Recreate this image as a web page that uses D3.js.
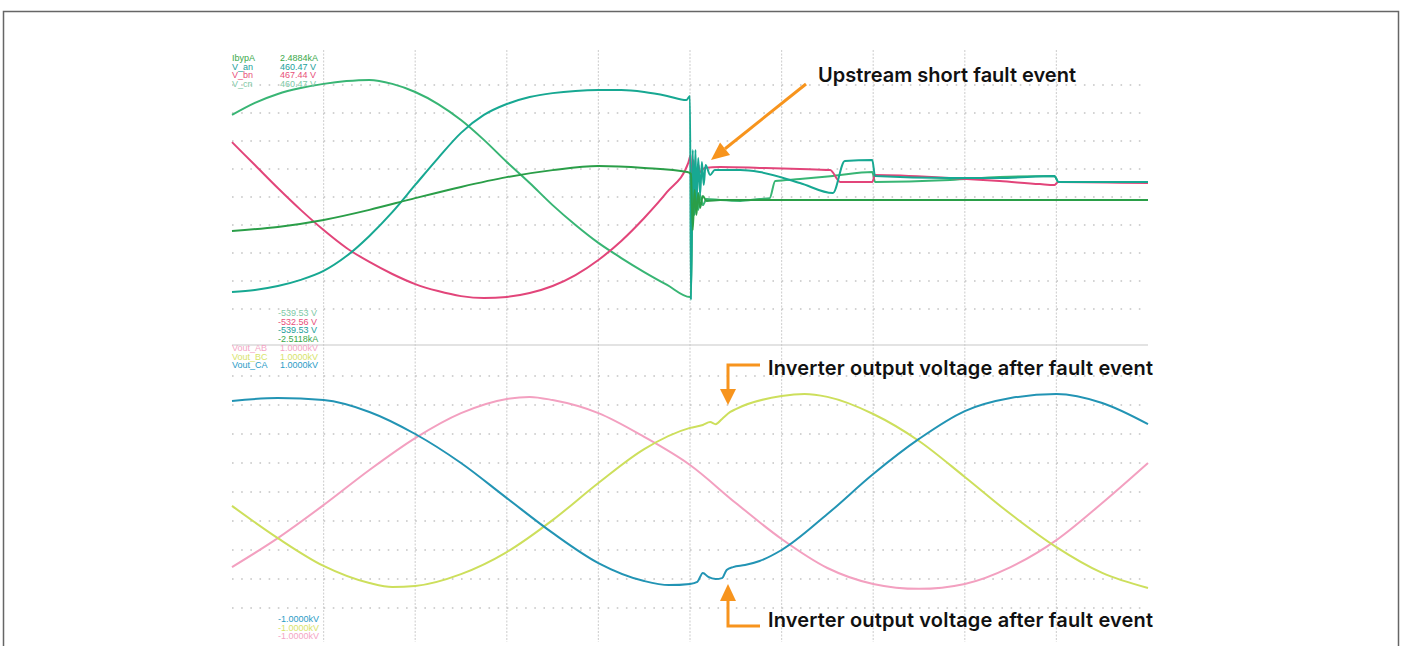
<!DOCTYPE html>
<html>
<head>
<meta charset="utf-8">
<script src="https://cdn.jsdelivr.net/npm/d3@7"></script>
<style>
  html, body { margin: 0; padding: 0; background: #fff; }
  svg { display: block; }
</style>
</head>
<body>
<svg id="chart" width="1405" height="646"></svg>
<script>
// ---------- DATA (time in divisions, amplitude in divisions) ----------
const topLegendLabels = ["IbypA", "V_an", "V_bn", "V_cn"];
const topMaxLabels = ["2.4884kA", "460.47 V", "467.44 V", "460.47 V"];
const topMinLabels = ["-539.53 V", "-532.56 V", "-539.53 V", "-2.5118kA"];
const botLegendLabels = ["Vout_AB", "Vout_BC", "Vout_CA"];
const botMaxLabels = ["1.0000kV", "1.0000kV", "1.0000kV"];
const botMinLabels = ["-1.0000kV", "-1.0000kV", "-1.0000kV"];

const ibypA = [[0,-1.21],[0.5,-1.07],[1,-0.82],[1.5,-0.46],[2,-0.04],[2.5,0.36],[3,0.71],[3.5,0.96],[4,1.11],[4.5,1.04],[4.97,0.89],
  [5.01,0.82],[5.03,-1.18],[5.05,0.25],[5.07,-0.64],[5.09,0.14],[5.11,-0.39],[5.14,0.04],[5.18,-0.14],[5.33,-0.11],[6.2,-0.11],[7.3,-0.11],[8.4,-0.11],[10,-0.11]];
const vAn = [[0,-3.39],[0.25,-3.32],[0.5,-3.18],[0.75,-2.96],[1,-2.64],[1.25,-2.11],[1.5,-1.39],[1.75,-0.54],[2,0.43],[2.25,1.39],[2.5,2.29],[2.75,2.93],[3,3.32],[3.25,3.57],[3.5,3.71],[3.75,3.79],[4,3.82],[4.25,3.82],[4.5,3.75],[4.75,3.61],[4.96,3.46],[5.0,3.61],
  [5.01,-3.68],[5.03,1.68],[5.04,-0.64],[5.06,1.68],[5.07,-0.29],[5.09,1.39],[5.11,0.07],[5.13,1.25],[5.15,0.43],[5.17,1.14],[5.22,0.79],[5.27,0.96],[5.55,0.96],[5.76,0.89],[6.2,0.5],[6.56,0.14],[6.69,1.29],[6.99,1.32],[7.02,0.75],[7.84,0.68],[8.38,0.68],[8.98,0.75],[9.02,0.54],[10,0.54]];
const vBn = [[0,1.96],[0.25,1.14],[0.5,0.32],[0.75,-0.46],[1,-1.18],[1.25,-1.82],[1.5,-2.32],[1.75,-2.75],[2,-3.11],[2.25,-3.36],[2.5,-3.54],[2.75,-3.61],[3,-3.57],[3.25,-3.43],[3.5,-3.18],[3.75,-2.79],[4,-2.25],[4.25,-1.57],[4.5,-0.75],[4.75,0.18],[4.98,1.21],
  [5.01,1.5],[5.02,-0.64],[5.04,1.32],[5.06,0.07],[5.09,1.14],[5.11,0.89],[5.16,1.04],[5.33,1.07],[5.76,1.04],[6.2,1.0],[6.53,0.96],[6.64,0.54],[6.99,0.54],[7.02,0.79],[7.84,0.68],[8.38,0.57],[8.82,0.46],[8.98,0.43],[9.02,0.54],[10,0.5]];
const vCn = [[0,2.93],[0.25,3.36],[0.5,3.68],[0.75,3.89],[1,4.04],[1.25,4.14],[1.5,4.18],[1.75,4.04],[2,3.75],[2.25,3.32],[2.5,2.75],[2.75,2.04],[3,1.25],[3.25,0.5],[3.5,-0.29],[3.75,-1.0],[4,-1.64],[4.25,-2.18],[4.5,-2.68],[4.75,-3.14],[5,-3.57],
  [5.01,-3.57],[5.03,0.07],[5.05,-0.64],[5.07,0.18],[5.09,-0.46],[5.11,0.07],[5.14,-0.29],[5.18,-0.07],[5.33,-0.11],[5.55,-0.14],[5.76,-0.07],[5.87,-0.04],[5.93,0.57],[6.2,0.64],[6.56,0.75],[6.99,0.89],[7.02,0.54],[7.84,0.61],[8.38,0.71],[8.98,0.75],[9.02,0.54],[10,0.54]];

const voutAB = [[0,-2.59],[0.5,-1.59],[1,-0.45],[1.5,0.76],[2,1.86],[2.5,2.72],[3,3.21],[3.25,3.28],[3.5,3.17],[4,2.72],[4.5,1.90],[5,0.93],[5.5,-0.38],[6,-1.62],[6.5,-2.62],[7,-3.17],[7.5,-3.34],[8,-3.17],[8.5,-2.59],[9,-1.66],[9.5,-0.38],[10,1.0]];
const voutBC = [[0,-0.48],[0.5,-1.59],[1,-2.55],[1.5,-3.14],[1.75,-3.28],[2,-3.24],[2.5,-2.83],[3,-2.07],[3.5,-0.97],[4,0.31],[4.5,1.48],[5,2.21],[5.14,2.31],[5.22,2.41],[5.28,2.34],[5.35,2.52],[5.44,2.76],[5.5,2.86],[6,3.31],[6.25,3.38],[6.5,3.28],[7,2.69],[7.5,1.76],[8,0.52],[8.5,-0.76],[9,-1.90],[9.5,-2.79],[10,-3.31]];
const voutCA = [[0,3.14],[0.5,3.24],[1,3.17],[1.5,2.76],[2,2.0],[2.5,1.0],[3,-0.21],[3.5,-1.41],[4,-2.45],[4.5,-3.07],[4.77,-3.21],[5,-3.17],[5.08,-3.10],[5.14,-2.79],[5.2,-2.93],[5.28,-3.0],[5.35,-2.97],[5.4,-2.69],[5.47,-2.59],[5.6,-2.52],[5.76,-2.38],[6,-2.0],[6.5,-0.76],[7,0.62],[7.5,1.83],[8,2.79],[8.5,3.24],[9,3.38],[9.5,3.07],[10,2.34]];

const annotations = ["Upstream short fault event", "Inverter output voltage after fault event", "Inverter output voltage after fault event"];

// ---------- LAYOUT ----------
const svg = d3.select("#chart");
const X0 = 232, X1 = 1148;
const x = d3.scaleLinear().domain([0, 10]).range([X0, X1]);
const yTop = d3.scaleLinear().domain([-5, 5]).range([337, 57]);
const yBot = d3.scaleLinear().domain([-5, 5]).range([637, 347]);

// frame
svg.append("rect").attr("x", 3.5).attr("y", 11.5).attr("width", 1395).attr("height", 700)
  .attr("fill", "none").attr("stroke", "#666").attr("stroke-width", 1.5);

// grid
const g = svg.append("g");
d3.range(1, 10).forEach(i => {
  g.append("line").attr("x1", x(i)).attr("x2", x(i)).attr("y1", 50).attr("y2", 642)
    .attr("stroke", "#d4d4d4").attr("stroke-width", 1.2).attr("stroke-dasharray", "2,1.5");
});
[yTop, yBot].forEach(ys => {
  d3.range(-4, 5).forEach(k => {
    g.append("line").attr("x1", X0).attr("x2", X1).attr("y1", ys(k)).attr("y2", ys(k))
      .attr("stroke", "#c4c4c4").attr("stroke-width", 1.6).attr("stroke-dasharray", "1.6,7.56");
  });
});
// panel separator
g.append("line").attr("x1", X0).attr("x2", X1).attr("y1", 345).attr("y2", 345)
  .attr("stroke", "#c8c8c8").attr("stroke-width", 1.2);

// traces
const lineTop = d3.line().x(d => x(d[0])).y(d => yTop(d[1])).curve(d3.curveMonotoneX);
const lineBot = d3.line().x(d => x(d[0])).y(d => yBot(d[1])).curve(d3.curveMonotoneX);
const traces = svg.append("g").attr("fill", "none").attr("stroke-linejoin", "round");
[[voutAB, "#f3a0c0"], [voutBC, "#cddf5c"], [voutCA, "#2294b4"]].forEach(([d, c]) => {
  traces.append("path").datum(d).attr("d", lineBot).attr("stroke", c).attr("stroke-width", 2);
});
[[vCn, "#38b574"], [vBn, "#e2457a"], [vAn, "#17a892"], [ibypA, "#2a9e48"]].forEach(([d, c]) => {
  traces.append("path").datum(d).attr("d", lineTop).attr("stroke", c).attr("stroke-width", 2);
});

// small scope labels
const lab = svg.append("g").attr("font-family", "Liberation Sans, Arial, sans-serif").attr("font-size", 9);
const topCols = ["#3aa84a", "#1a9e9a", "#e84f7a", "#7ec9a6"];
topLegendLabels.forEach((t, i) => {
  lab.append("text").attr("x", 232).attr("y", 61 + i * 8.5).attr("fill", topCols[i]).text(t);
  lab.append("text").attr("x", 280).attr("y", 61 + i * 8.5).attr("fill", topCols[i]).text(topMaxLabels[i]);
});
const topMinCols = ["#7ec9a6", "#e84f7a", "#1a9e9a", "#3aa84a"];
topMinLabels.forEach((t, i) => {
  lab.append("text").attr("x", 278).attr("y", 316 + i * 8.5).attr("fill", topMinCols[i]).text(t);
});
const botCols = ["#f4a5c5", "#d7e36a", "#2a9cc6"];
botLegendLabels.forEach((t, i) => {
  lab.append("text").attr("x", 232).attr("y", 351 + i * 8.5).attr("fill", botCols[i]).text(t);
  lab.append("text").attr("x", 280).attr("y", 351 + i * 8.5).attr("fill", botCols[i]).text(botMaxLabels[i]);
});
const botMinCols = ["#2a9cc6", "#d7e36a", "#f4a5c5"];
botMinLabels.forEach((t, i) => {
  lab.append("text").attr("x", 278).attr("y", 622 + i * 8.5).attr("fill", botMinCols[i]).text(t);
});

// annotations
const orange = "#f7941d";
const ann = svg.append("g").attr("font-family", "Inter, Lato, sans-serif").attr("font-weight", 600)
  .attr("font-size", 20).attr("fill", "#111");
ann.append("text").attr("x", 818).attr("y", 82).attr("textLength", 258).text(annotations[0]);
ann.append("text").attr("x", 768).attr("y", 375).attr("textLength", 385).text(annotations[1]);
ann.append("text").attr("x", 768).attr("y", 627).attr("textLength", 385).text(annotations[2]);

const arr = svg.append("g");
// diagonal arrow
(function () {
  const sx = 806, sy = 84, tx = 711, ty = 160;
  const ang = Math.atan2(ty - sy, tx - sx);
  const L = 18, W = 8;
  const bx = tx - L * Math.cos(ang), by = ty - L * Math.sin(ang);
  arr.append("line").attr("x1", sx).attr("y1", sy).attr("x2", bx).attr("y2", by)
    .attr("stroke", orange).attr("stroke-width", 3);
  const px = -Math.sin(ang) * W, py = Math.cos(ang) * W;
  arr.append("polygon").attr("points", `${tx},${ty} ${bx + px},${by + py} ${bx - px},${by - py}`).attr("fill", orange);
})();
// elbow arrow down
arr.append("path").attr("d", "M760,365 H728 V390").attr("fill", "none").attr("stroke", orange).attr("stroke-width", 3);
arr.append("polygon").attr("points", "720,389 736,389 728,405").attr("fill", orange);
// elbow arrow up
arr.append("path").attr("d", "M760,626 H728 V600").attr("fill", "none").attr("stroke", orange).attr("stroke-width", 3);
arr.append("polygon").attr("points", "720,601 736,601 728,584").attr("fill", orange);
</script>
</body>
</html>
